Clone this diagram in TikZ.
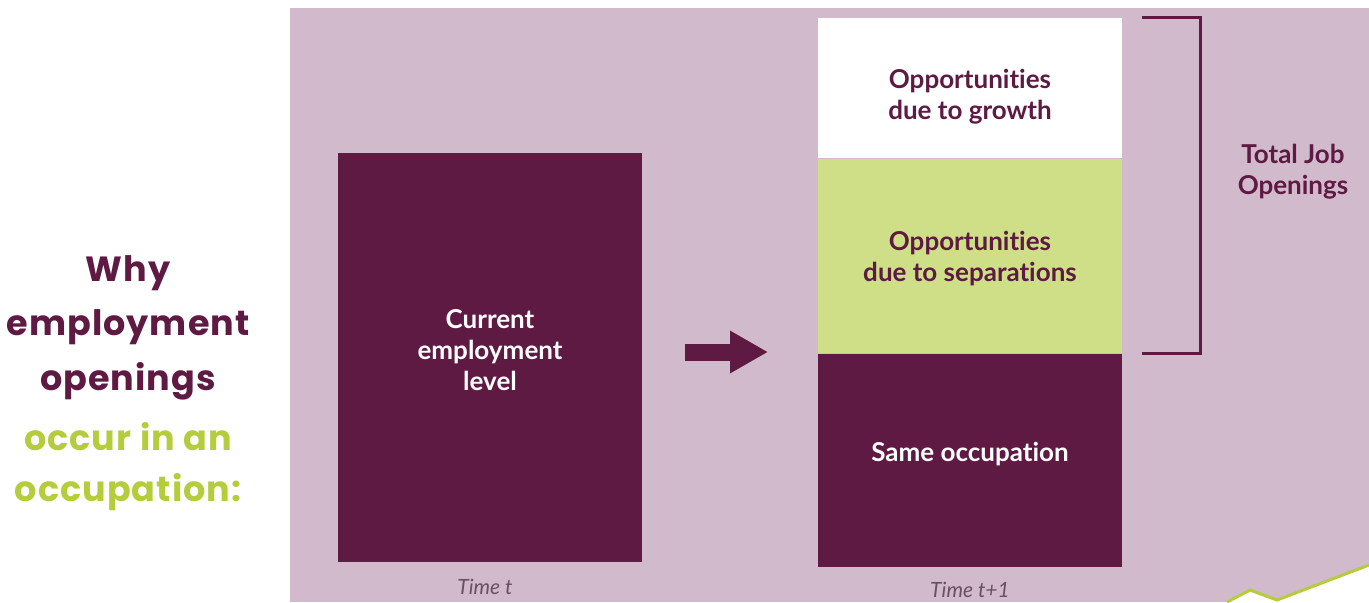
\documentclass[tikz,border=0pt]{standalone}
\usepackage{fontspec}
\setmainfont{Lato}[Ligatures=NoCommon]
\newfontfamily\titlefont[LetterSpace=3]{Poppins}
\usetikzlibrary{positioning}
\usetikzlibrary{arrows.meta}

\definecolor{plum}{RGB}{94,26,66}
\definecolor{mauve}{RGB}{210,186,205}
\definecolor{lime}{RGB}{206,223,135}
\definecolor{limetext}{RGB}{181,204,61}
\definecolor{timegray}{RGB}{105,80,100}

\begin{document}
\begin{tikzpicture}[x=0.5pt,y=-0.5pt,
    block/.style={inner sep=0pt, minimum width=152pt},
    blocktext/.style={align=center, font=\bfseries\fontsize{13}{15.5}\selectfont},
    timelabel/.style={font=\itshape\fontsize{10.5}{12}\selectfont, text=timegray},
    titleline/.style={font=\titlefont\bfseries\fontsize{17.5}{22}\selectfont}]
  \useasboundingbox (0,0) rectangle (1369,602);
  \fill[mauve] (290,8) rectangle (1369,602);
  \fill[white] (1227,602) -- (1250,590) -- (1277,600) -- (1369,565) -- (1369,602) -- cycle;
  \draw[limetext, line width=1.5pt] (1227,602) -- (1250,590) -- (1277,600) -- (1369,565);

  % title
  \node[titleline, text=plum] (why) at (128,273) {Why};
  \node[titleline, text=plum] (employment) at (128,327) {employment};
  \node[titleline, text=plum] (openings) at (128,381) {openings};
  \node[titleline, text=limetext] (occur) at (128,437) {occur in an};
  \node[titleline, text=limetext] (occupation) at (128,492) {occupation:};

  % time t
  \node[block, fill=plum, minimum height=204.5pt] (current) at (490,357.5) {};
  \node[blocktext, text=white] (currenttext) at ([yshift=3.5pt]current.center) {Current\\employment\\level};
  \node[timelabel] (timet) at (485,587) {Time t};

  % time t+1
  \node[block, fill=white, minimum height=70pt] (growth) at (970,88) {};
  \node[block, fill=lime, minimum height=97pt, below=0pt of growth] (separations) {};
  \node[block, fill=plum, minimum height=106.5pt, below=0pt of separations] (same) {};
  \node[blocktext, text=plum] (growthtext) at ([yshift=-4.5pt]growth.center) {Opportuni\kern0pt ties\\due to growth};
  \node[blocktext, text=plum] (separationstext) at ([yshift=-1.5pt]separations.center) {Opportuni\kern0pt ties\\due to separations};
  \node[blocktext, text=white] (sametext) at ([yshift=3pt]same.center) {Same occupation};
  \node[timelabel] (timetone) at (970,590) {Time t+1};

  % arrow
  \coordinate (arrowfrom) at (685,352);
  \coordinate (arrowto) at (768,352);
  \draw[plum, line width=8.5pt, -{Triangle[length=19pt,width=20pt]}] (arrowfrom) -- (arrowto);

  % bracket
  \draw[plum, line width=1.5pt] ([xshift=10pt]growth.north east) -- ++(58,0) |- ([xshift=10pt]same.north east);
  \node[blocktext, text=plum] (total) at (1293,172) {Total Job\\Openings};
\end{tikzpicture}
\end{document}
